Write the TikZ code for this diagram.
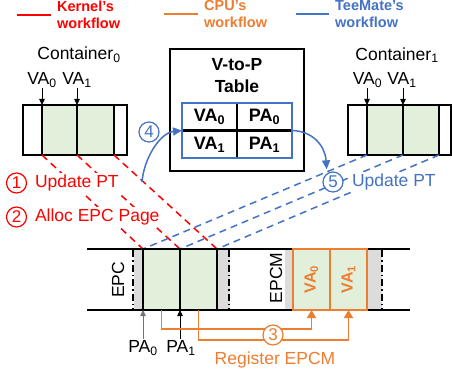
\documentclass[tikz,border=0pt]{standalone}
\usepackage{fontspec}
\setmainfont{Liberation Sans}
\usetikzlibrary{arrows.meta,calc}
\definecolor{kred}{HTML}{FF0000}
\definecolor{korange}{HTML}{ED7D31}
\definecolor{kblue}{HTML}{4472C4}
\definecolor{cellgreen}{HTML}{E2EFDA}
\definecolor{greyfill}{HTML}{DCDCDC}
\newcommand\sbs[1]{\textsubscript{#1}}
\begin{document}
\begin{tikzpicture}[x=1pt,y=-1pt,
  lbl/.style={font=\fontsize{17.5}{20}\selectfont, inner sep=0pt, outer sep=0pt},
  steplbl/.style={lbl, anchor=west, fill=white, inner sep=1.5pt},
  bl/.style={font=\fontsize{18}{22}\selectfont\bfseries, inner sep=0pt, outer sep=0pt},
  leg/.style={font=\fontsize{14.5}{16.5}\selectfont\bfseries, align=left, anchor=west, inner sep=0pt},
  legline/.style={line width=2pt},
  cell/.style={draw, line width=1.8pt, fill=cellgreen, inner sep=0pt, outer sep=0pt, minimum height=50pt},
  pcell/.style={cell, minimum height=61pt, minimum width=37pt},
  wcell/.style={cell, fill=white},
  circ/.style={circle, draw, line width=1.2pt, minimum size=20pt, inner sep=0pt, fill=white, font=\fontsize{17}{20}\selectfont},
  kdash/.style={kred, line width=1.5pt, dash pattern=on 7pt off 5pt},
  bdash/.style={kblue, line width=1.5pt, dash pattern=on 7pt off 5pt},
  varrow/.style={line width=0.8pt, -{Triangle[length=6pt,width=5.5pt]}},
  oline/.style={korange, line width=1.5pt},
  oarrow/.style={oline, -{Triangle[length=8pt,width=9pt]}},
  barrow/.style={kblue, line width=1.5pt, -{Triangle[length=9pt,width=8pt]}},
  dashdot/.style={line width=1.3pt, dash pattern=on 7pt off 3pt on 1.5pt off 3pt},
]
\useasboundingbox (0,0) rectangle (452,377);

% ---------------- legend ----------------
\draw[legline, kred] (17,15) -- (51,15);
\node[leg, text=kred] (legk) at (57,15) {Kernel’s\\workflow};
\draw[legline, korange] (164,14) -- (198,14);
\node[leg, text=korange] (legc) at (204,14) {CPU’s\\workflow};
\draw[legline, kblue] (296,14) -- (329,14);
\node[leg, text=kblue] (legt) at (335,14) {TeeMate’s\\workflow};

% ---------------- EPC strip ----------------
\fill[greyfill] (134,249) rectangle (143,310);
\fill[greyfill] (217,249) rectangle (230,310);
\fill[greyfill] (285,249) rectangle (293,310);
\fill[greyfill] (367,249) rectangle (382,310);
\draw[line width=1.5pt] (87,249) -- (410,249);
\draw[line width=1.5pt] (87,310) -- (410,310);
\draw[dashdot] (133,250) -- (133,309);
\draw[dashdot] (229,250) -- (229,309);
\draw[dashdot] (382,250) -- (382,309);
\node[lbl, rotate=90] (epc) at (118,280) {EPC};
\node[lbl, rotate=90] (epcm) at (276,278) {EPCM};

% ---------------- containers ----------------
\node[wcell, minimum width=19pt] (L0w) at (32.5,130) {};
\node[cell, minimum width=35pt] (L0a) at (59.5,130) {};
\node[cell, minimum width=37pt] (L0b) at (95.5,130) {};
\node[wcell, minimum width=13pt] (L0e) at (120.5,130) {};
\node[lbl] (cont0) at (79,55) {Container\sbs{0}};
\node[lbl] (l0va0) at (42,80) {VA\sbs{0}};
\node[lbl] (l0va1) at (77,80) {VA\sbs{1}};
\draw[varrow] (l0va0.south -| L0a.north west) ++(0,1) -- (L0a.north west);
\draw[varrow] (l0va1.south -| L0b.north west) ++(0,1) -- (L0b.north west);

\node[wcell, minimum width=19pt] (R1w) at (357.5,130) {};
\node[cell, minimum width=36pt] (R1a) at (385,130) {};
\node[cell, minimum width=36pt] (R1b) at (421,130) {};
\node[wcell, minimum width=12pt] (R1e) at (445,130) {};
\node[lbl] (cont1) at (397,55) {Container\sbs{1}};
\node[lbl] (r1va0) at (367.5,80) {VA\sbs{0}};
\node[lbl] (r1va1) at (402,80) {VA\sbs{1}};
\draw[varrow] (r1va0.south -| R1a.north west) ++(0,1) -- (R1a.north west);
\draw[varrow] (r1va1.south -| R1b.north west) ++(0,1) -- (R1b.north west);

% ---------------- EPC pages ----------------
\node[pcell] (E0) at (161.5,279.5) {};
\node[pcell] (E1) at (198.5,279.5) {};
\node[pcell, draw=korange] (V0) at (311.5,279.5) {};
\node[pcell, draw=korange] (V1) at (348.5,279.5) {};
\node[bl, rotate=90, text=korange, font=\fontsize{16}{20}\selectfont\bfseries] (v0t) at (V0) {VA\sbs{0}};
\node[bl, rotate=90, text=korange, font=\fontsize{16}{20}\selectfont\bfseries] (v1t) at (V1) {VA\sbs{1}};

% ---------------- dashed mappings ----------------
\draw[kdash] (L0a.south west) -- (E0.north west);
\draw[kdash] (L0b.south west) -- (E1.north west);
\draw[kdash] (L0b.south east) -- (E1.north east);
\draw[bdash] (R1a.south west) -- (E0.north west);
\draw[bdash] (R1b.south west) -- (E1.north west);
\draw[bdash] (R1b.south east) -- (E1.north east);
\node[pcell, fill=none] at (E0) {};
\node[pcell, fill=none] at (E1) {};

% ---------------- physical address arrows ----------------
\node[lbl] (pa0) at (143,348) {PA\sbs{0}};
\node[lbl] (pa1) at (181,348) {PA\sbs{1}};
\draw[varrow, black!55] (pa0.north -| E0.south west) ++(0,-2) -- (E0.south west);
\draw[varrow] (pa1.north -| E1.south west) ++(0,-2) -- (E1.south west);

% ---------------- CPU step ----------------
\draw[oarrow] (E0.south) -- ++(0,19) -| (V0.south);
\draw[oarrow] (E1.south) -- ++(0,30) -| (V1.south);
\node[circ, draw=korange, text=korange] (n3) at (273,335) {3};
\node[lbl, text=korange] (t3) at (275,360) {Register EPCM};

% ---------------- V-to-P table ----------------
\node[draw, line width=1.5pt, minimum width=134pt, minimum height=122pt, inner sep=0pt] (vtp) at (237,110) {};
\node[bl, align=center, font=\fontsize{17.5}{22}\selectfont\bfseries] (title) at (237,76) {V-to-P\\Table};
\node[minimum width=110pt, minimum height=55pt, inner sep=0pt, outer sep=0pt] (tbl) at (237,130.5) {};
\draw[line width=1.5pt] (tbl.north) -- (tbl.south);
\draw[line width=3pt] (tbl.west) -- (tbl.east);
\draw[kblue, line width=2.5pt] (tbl.south west) rectangle (tbl.north east);
\node[bl] (tva0) at (209.5,117) {VA\sbs{0}};
\node[bl] (tpa0) at (264.5,117) {PA\sbs{0}};
\node[bl] (tva1) at (209.5,145) {VA\sbs{1}};
\node[bl] (tpa1) at (264.5,145) {PA\sbs{1}};

% ---------------- kernel steps ----------------
\node[circ, draw=kred, text=kred] (n1) at (16.5,183) {1};
\node[steplbl, text=kred] (t1) at (33.5,183) {Update PT};
\node[circ, draw=kred, text=kred] (n2) at (16.5,217) {2};
\node[steplbl, text=kred] (t2) at (33.5,217) {Alloc EPC Page};

% ---------------- TeeMate steps ----------------
\coordinate (c4s) at (142,182);
\draw[barrow] (c4s) .. controls (144,158) and (160,133) .. (tbl.west);
\node[circ, draw=kblue, text=kblue] (n4) at (149,132) {4};
\node[circ, draw=kblue, text=kblue] (n5) at (333,182) {5};
\node[steplbl, text=kblue] (t5) at (350.5,182) {Update PT};
\draw[barrow, shorten >=4pt] (tbl.east) .. controls (312,131) and (325,145) .. (n5.125);
\end{tikzpicture}
\end{document}
